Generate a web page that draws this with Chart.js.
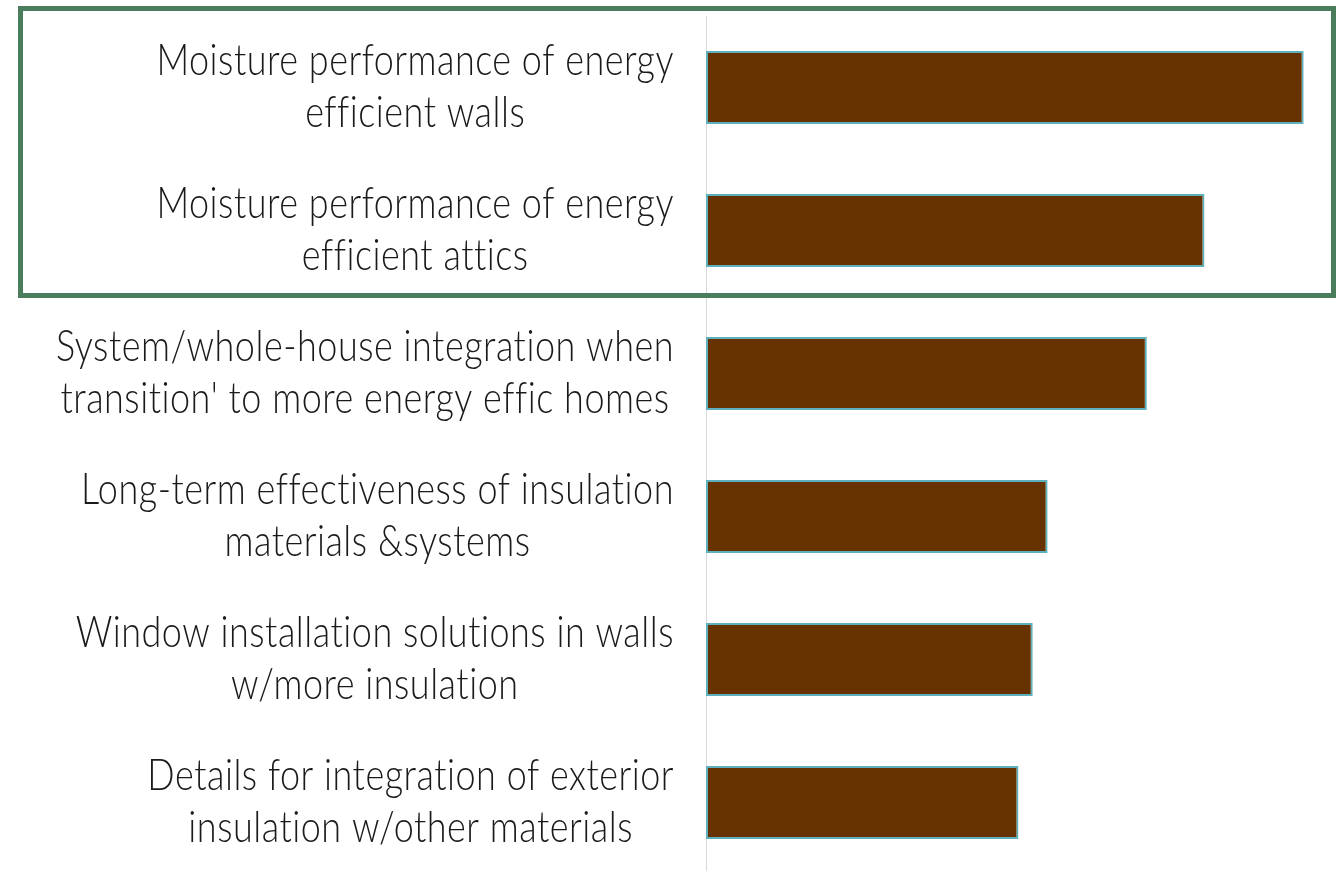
<!DOCTYPE html>
<html>
<head>
<meta charset="utf-8">
<script src="https://cdn.jsdelivr.net/npm/chart.js@4"></script>
<style>
  html, body { margin: 0; padding: 0; background: #ffffff; overflow: hidden; }
  #wrap { width: 1340px; height: 871px; position: relative; overflow: hidden; }
</style>
</head>
<body>
<div id="wrap"><canvas id="c" width="1340" height="874"></canvas></div>
<script>
const categories = [
  ["Moisture performance of energy", "efficient walls"],
  ["Moisture performance of energy", "efficient attics"],
  ["System/whole-house integration when", "transition' to more energy effic homes"],
  ["Long-term effectiveness of insulation", "materials &systems"],
  ["Window installation solutions in walls", "w/more insulation"],
  ["Details for integration of exterior", "insulation w/other materials"]
];
const values = [48.2, 40.2, 35.55, 27.55, 26.35, 25.2];
const highlightedCount = 2;

// Category labels: right-aligned blocks with centred lines, slightly tall glyphs
const centredLabels = {
  id: 'centredLabels',
  afterDraw(chart) {
    const y = chart.scales.y;
    const ctx = chart.ctx;
    const rightEdge = y.right - 32;
    const stretch = 1.18;
    const lineGap = 52;
    ctx.save();
    ctx.font = '300 36px Lato';
    if ('letterSpacing' in ctx) ctx.letterSpacing = '0.5px';
    ctx.fillStyle = '#1a1a1a';
    ctx.textAlign = 'center';
    ctx.textBaseline = 'middle';
    chart.data.labels.forEach((lines, i) => {
      const cy = y.getPixelForTick(i);
      const w = Math.max(...lines.map(l => ctx.measureText(l).width));
      const cx = rightEdge - w / 2;
      ctx.save();
      ctx.translate(cx, cy);
      ctx.scale(1, stretch);
      lines.forEach((line, j) => {
        const off = (j - (lines.length - 1) / 2) * lineGap / stretch;
        ctx.fillText(line, 0, off);
      });
      ctx.restore();
    });
    ctx.restore();
  }
};

const highlightBox = {
  id: 'highlightBox',
  afterDraw(chart) {
    const y = chart.scales.y;
    const ctx = chart.ctx;
    const step = (y.bottom - y.top) / categories.length;
    const top = y.top - 7.5;
    const bottom = y.top + step * highlightedCount - 6.5;
    ctx.save();
    ctx.strokeStyle = '#4a7d5c';
    ctx.lineWidth = 5;
    ctx.strokeRect(20.5, top, 1313, bottom - top);
    ctx.restore();
  }
};

new Chart(document.getElementById('c'), {
  type: 'bar',
  data: {
    labels: categories,
    datasets: [{
      data: values,
      backgroundColor: '#663300',
      borderColor: '#5fb0bd',
      borderWidth: 2,
      borderSkipped: false,
      categoryPercentage: 1,
      barPercentage: 0.51
    }]
  },
  options: {
    indexAxis: 'y',
    responsive: false,
    animation: false,
    layout: { padding: { top: 16, right: 14, bottom: 0, left: 0 } },
    plugins: { legend: { display: false }, tooltip: { enabled: false } },
    scales: {
      x: { display: false, min: 0, max: 50 },
      y: {
        afterFit(scale) { scale.width = 706; },
        grid: { display: false, drawTicks: false },
        border: { display: true, color: '#d9d9d9', width: 1 },
        ticks: { display: false }
      }
    }
  },
  plugins: [centredLabels, highlightBox]
});
</script>
</body>
</html>
